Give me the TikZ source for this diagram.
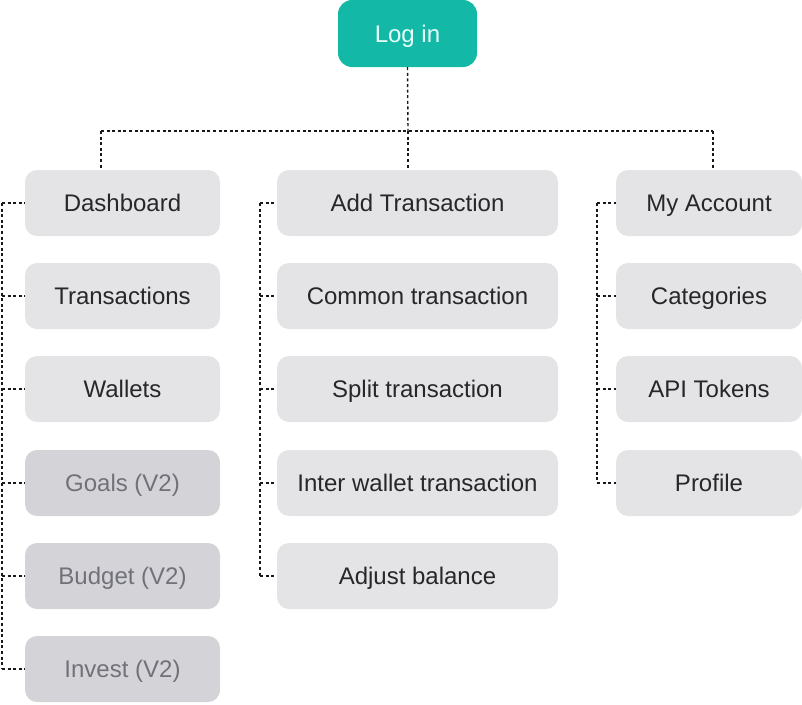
\documentclass[tikz,border=0pt]{standalone}
\usepackage{fontspec}
\setmainfont{Liberation Sans}
\usepackage{xcolor}
\usetikzlibrary{calc,positioning}
\definecolor{tealc}{HTML}{14B8A6}
\definecolor{tealtx}{HTML}{E6FFFA}
\definecolor{boxc}{HTML}{E4E4E7}
\definecolor{boxv}{HTML}{D4D4D8}
\definecolor{inkc}{HTML}{27272A}
\definecolor{mutec}{HTML}{71717A}
\definecolor{linec}{HTML}{18181B}
\tikzset{
  page/.style={box/.style={fill=boxc,text=inkc,rounded corners=12pt,inner sep=0pt,minimum height=66pt,
    font=\fontsize{24}{28}\selectfont,text height=18pt,text depth=0.6pt}},
  lbox/.style={box,minimum width=195pt},
  mbox/.style={box,minimum width=281pt},
  rbox/.style={box,minimum width=186pt},
  later/.style={fill=boxv,text=mutec},
  link/.style={draw=linec,line width=1.4pt,dash pattern=on 3pt off 2.6pt}
}

\begin{document}
\begin{tikzpicture}[x=1pt,y=-1pt,page]
\useasboundingbox (0,0) rectangle (802,704);
\node[box,fill=tealc,text=tealtx,minimum width=139pt,minimum height=67pt,rounded corners=14pt] (login) at (407.5,33.5) {Log in};
% left column
\node[lbox] (dash) at (122.5,203) {Dashboard};
\node[lbox] (trans) at (122.5,296) {Transactions};
\node[lbox] (wall) at (122.5,389) {Wallets};
\node[lbox,later] (goals) at (122.5,483) {Goals (V2)};
\node[lbox,later] (budget) at (122.5,576) {Budget (V2)};
\node[lbox,later] (invest) at (122.5,669) {Invest (V2)};
% middle column
\node[mbox] (addtx) at (417.5,203) {Add Transaction};
\node[mbox] (common) at (417.5,296) {Common transaction};
\node[mbox] (split) at (417.5,389) {Split transaction};
\node[mbox] (inter) at (417.5,483) {Inter wallet transaction};
\node[mbox] (adjust) at (417.5,576) {Adjust balance};
% right column
\node[rbox] (account) at (709,203) {My Account};
\node[rbox] (cats) at (709,296) {Categories};
\node[rbox] (tokens) at (709,389) {API Tokens};
\node[rbox] (profile) at (709,483) {Profile};
% connectors
\coordinate (bus) at (408,131);
\coordinate (busl) at (101,131);
\coordinate (busr) at (713,131);
\coordinate (raill) at (2,0);
\coordinate (railm) at (260,0);
\coordinate (railr) at (597,0);
\draw[link] (login.south) -- (bus);
\draw[link] (busl) -- (busr);
\draw[link] (busl) -- (busl |- dash.north);
\draw[link] (bus) -- (bus |- addtx.north);
\draw[link] (busr) -- (busr |- account.north);
\draw[link] (raill |- dash.west) -- (raill |- invest.west);
\draw[link] (railm |- addtx.west) -- (railm |- adjust.west);
\draw[link] (railr |- account.west) -- (railr |- profile.west);
\foreach \n in {dash,trans,wall,goals,budget,invest}
  \draw[link] (raill |- \n.west) -- (\n.west);
\foreach \n in {addtx,common,split,inter,adjust}
  \draw[link] (railm |- \n.west) -- (\n.west);
\foreach \n in {account,cats,tokens,profile}
  \draw[link] (railr |- \n.west) -- (\n.west);
\end{tikzpicture}
\end{document}
